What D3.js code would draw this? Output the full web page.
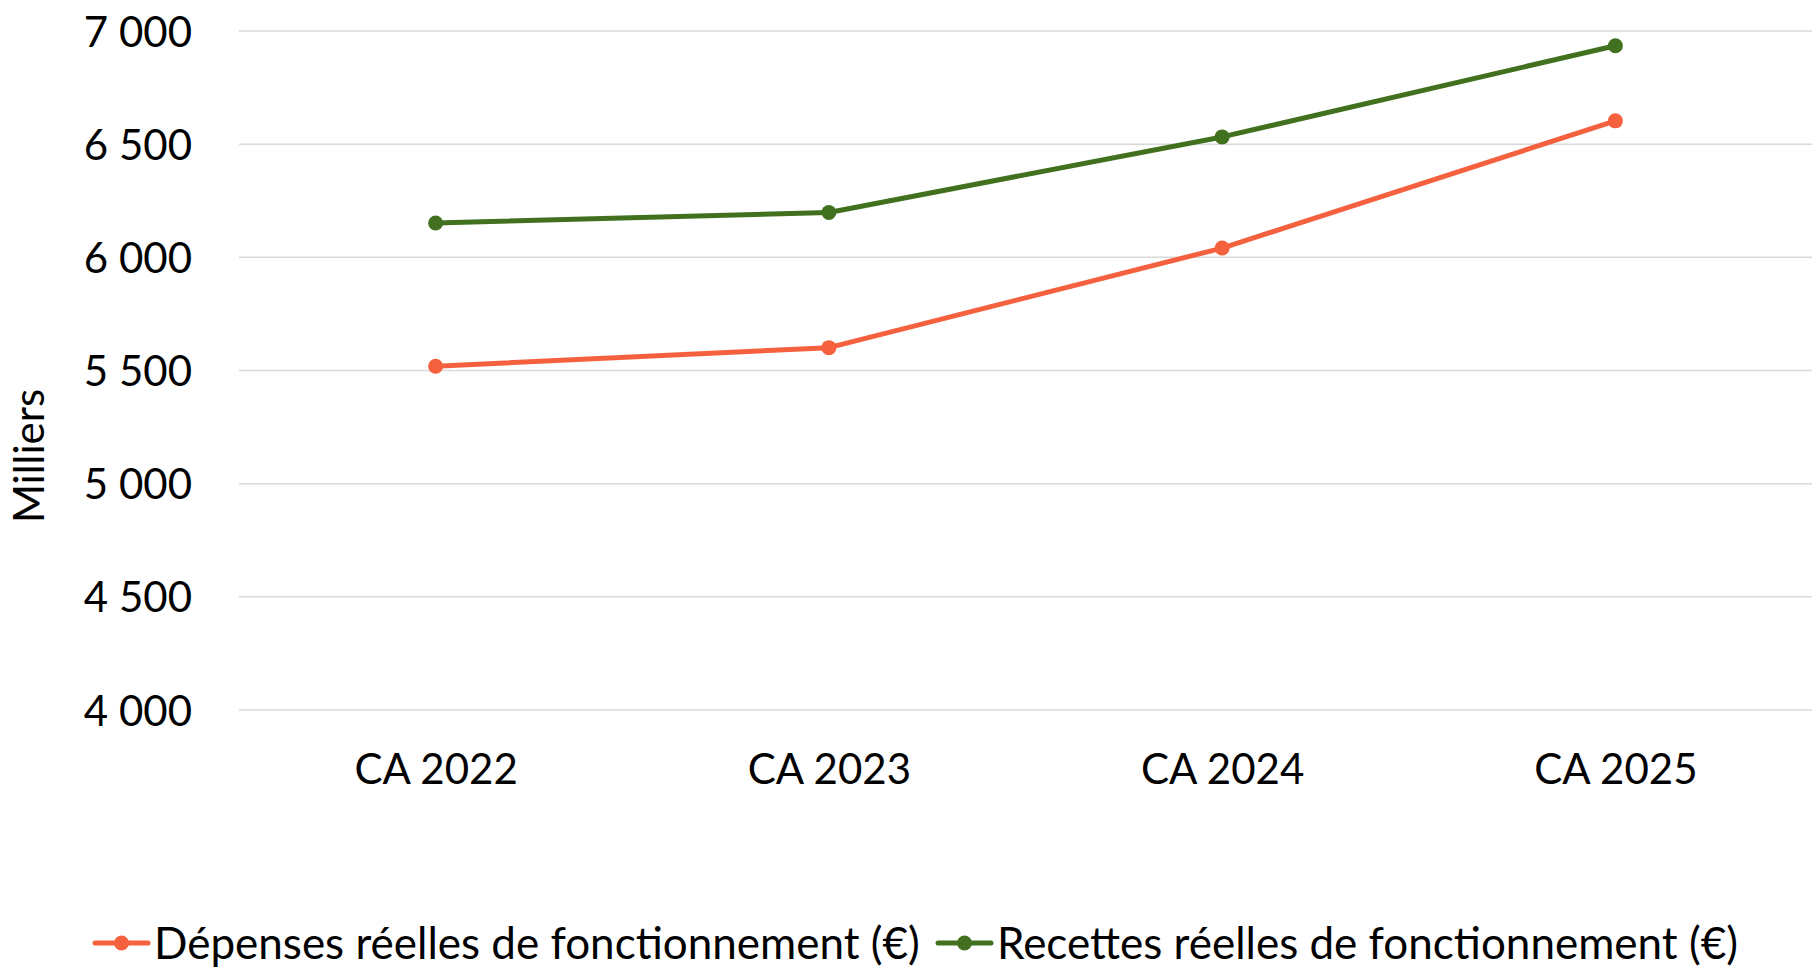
<!DOCTYPE html>
<html>
<head>
<meta charset="utf-8">
<script src="https://cdn.jsdelivr.net/npm/d3@7"></script>
<style>
	html, body { margin: 0; padding: 0; background: #fff; }
	svg { display: block; font-family: Lato, 'Open Sans', sans-serif; }
</style>
</head>
<body>
<svg id="chart"></svg>
<script>
const categories = ['CA 2022', 'CA 2023', 'CA 2024', 'CA 2025']
const depenses = [5519, 5601, 6041, 6603]
const recettes = [6152, 6198, 6532, 6935]
const yTicks = [4000, 4500, 5000, 5500, 6000, 6500, 7000]
const seriesNames = ['Dépenses réelles de fonctionnement (€)', 'Recettes réelles de fonctionnement (€)']
const seriesColors = ['#F5613F', '#41711F']

const WIDTH = 1812
const HEIGHT = 970
const MARGINS = {top: 31, right: 0, bottom: 260, left: 239}

const svg = d3.select('#chart')
	.attr('width', WIDTH)
	.attr('height', HEIGHT)

const x = d3.scalePoint()
	.domain(categories)
	.range([MARGINS.left, WIDTH - MARGINS.right])
	.padding(0.5)

const y = d3.scaleLinear()
	.domain([4000, 7000])
	.range([HEIGHT - MARGINS.bottom, MARGINS.top])

const fmt = v => d3.format(',')(v).replace(/,/g, ' ')

// Gridlines
svg.append('g')
	.selectAll('line')
	.data(yTicks)
	.join('line')
	.attr('x1', MARGINS.left)
	.attr('x2', WIDTH - MARGINS.right)
	.attr('y1', d => y(d))
	.attr('y2', d => y(d))
	.attr('stroke', '#D9D9D9')
	.attr('stroke-width', 1.5)

// Y axis labels
const yAxis = svg.append('g')
	.attr('transform', `translate(${MARGINS.left - 47}, 0)`)
	.call(d3.axisLeft(y).tickValues(yTicks).tickFormat(fmt).tickSize(0).tickPadding(0))
yAxis.select('.domain').remove()
yAxis.selectAll('text')
	.attr('font-size', 42)
	.attr('font-family', 'Lato, sans-serif')
	.attr('fill', '#000')
	.attr('dy', '0.36em')

// X axis labels
const xAxis = svg.append('g')
	.attr('transform', `translate(0, ${HEIGHT - MARGINS.bottom + 44})`)
	.call(d3.axisBottom(x).tickSize(0).tickPadding(0))
xAxis.select('.domain').remove()
xAxis.selectAll('text')
	.attr('font-size', 42)
	.attr('font-family', 'Lato, sans-serif')
	.attr('fill', '#000')

// Axis title
svg.append('text')
	.attr('transform', `translate(44, 456) rotate(-90)`)
	.attr('text-anchor', 'middle')
	.attr('font-size', 42)
	.attr('fill', '#000')
	.text('Milliers')

// Series
const series = [depenses, recettes]
const line = d3.line()
	.x((d, i) => x(categories[i]))
	.y(d => y(d))

series.forEach((values, s) => {
	const g = svg.append('g')
	g.append('path')
		.datum(values)
		.attr('d', line)
		.attr('fill', 'none')
		.attr('stroke', seriesColors[s])
		.attr('stroke-width', 5)
		.attr('stroke-linejoin', 'round')
		.attr('stroke-linecap', 'round')
	g.selectAll('circle')
		.data(values)
		.join('circle')
		.attr('cx', (d, i) => x(categories[i]))
		.attr('cy', d => y(d))
		.attr('r', 7.5)
		.attr('fill', seriesColors[s])
})

// Legend
const legendY = 943
const legendX = [95, 938]
seriesNames.forEach((name, s) => {
	const g = svg.append('g')
		.attr('transform', `translate(${legendX[s]}, ${legendY})`)
	g.append('line')
		.attr('x1', 0)
		.attr('x2', 53)
		.attr('stroke', seriesColors[s])
		.attr('stroke-width', 5)
		.attr('stroke-linecap', 'round')
	g.append('circle')
		.attr('cx', 26.5)
		.attr('r', 7.5)
		.attr('fill', seriesColors[s])
	g.append('text')
		.attr('x', 59)
		.attr('dy', '0.36em')
		.attr('font-size', 44)
		.attr('fill', '#000')
		.text(name)
})
</script>
</body>
</html>
